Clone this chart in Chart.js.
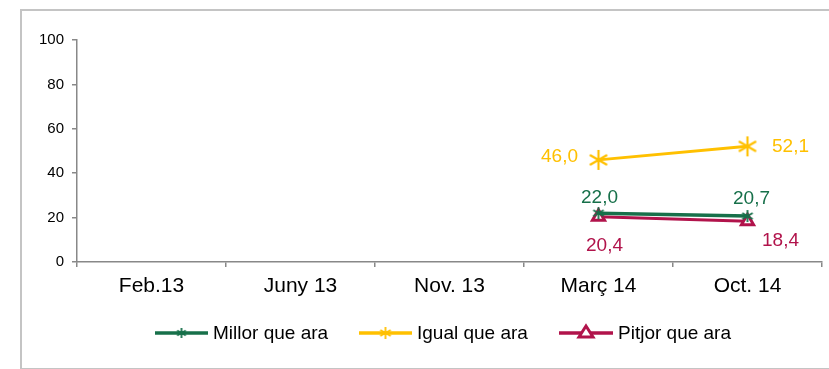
<!DOCTYPE html>
<html><head><meta charset="utf-8">
<script src="https://cdn.jsdelivr.net/npm/chart.js@4/dist/chart.umd.min.js"></script>
<style>
body{margin:0;background:#fff;overflow:hidden;}
#frame{position:absolute;left:20px;top:9px;width:813px;height:357px;border:2px solid #c4c4c4;background:#fff;}
canvas{display:block;}
</style></head><body>
<div id="frame"><canvas id="c" width="813" height="357"></canvas></div>
<script>
const categories = ["Feb.13", "Juny 13", "Nov. 13", "Març 14", "Oct. 14"];
const millor = [null, null, null, 22.0, 20.7];
const igual  = [null, null, null, 46.0, 52.1];
const pitjor = [null, null, null, 20.4, 18.4];
const yTicks = [0, 20, 40, 60, 80, 100];
const seriesNames = ["Millor que ara", "Igual que ara", "Pitjor que ara"];

const GREEN = "#17704a", GOLD = "#ffc000", RED = "#b1134b";
const FONT = "'Liberation Sans', Arial, sans-serif";

function asterisk(size, color, lw){
  const c = document.createElement('canvas');
  c.width = c.height = size*2+4;
  const g = c.getContext('2d');
  g.strokeStyle = color; g.lineWidth = lw; g.lineCap='butt';
  const cx = size+2, cy = size+2;
  for (const a of [90, 30, -30]) {
    const r = a*Math.PI/180;
    g.beginPath();
    g.moveTo(cx - size*Math.cos(r), cy - size*Math.sin(r));
    g.lineTo(cx + size*Math.cos(r), cy + size*Math.sin(r));
    g.stroke();
  }
  return c;
}
const starGreen = asterisk(6, GREEN, 1.8);
const starGold = asterisk(10, GOLD, 2.2);
const starGreenL = asterisk(5, GREEN, 1.8);
const starGoldL = asterisk(6, GOLD, 1.8);

// label offsets (style)
const labelOffsets = [
  [{dx:1, dy:-15}, {dx:4, dy:-17}],
  [{dx:-39, dy:-3}, {dx:43, dy:0}],
  [{dx:6, dy:29}, {dx:33, dy:20}]
];
const colors = [GREEN, GOLD, RED];

const labelPlugin = {
  id:'labels',
  afterDatasetsDraw(chart){
    const ctx = chart.ctx;
    ctx.save();
    ctx.font = "19px " + FONT;
    ctx.textAlign = 'center'; ctx.textBaseline = 'middle';
    chart.data.datasets.forEach((ds, i) => {
      const meta = chart.getDatasetMeta(i);
      let k = 0;
      ds.data.forEach((v, j) => {
        if (v === null) return;
        const p = meta.data[j];
        const o = labelOffsets[i][k++];
        ctx.fillStyle = colors[i];
        ctx.fillText(v.toFixed(1).replace('.', ','), p.x + o.dx, p.y + o.dy);
      });
    });
    ctx.restore();
  },
  afterDraw(chart){
    const ctx = chart.ctx;
    ctx.save();
    const y = 322;
    const items = [
      {x0:133, x1:186, color:GREEN, marker:'gs'},
      {x0:337, x1:390, color:GOLD, marker:'ys'},
      {x0:537, x1:591, color:RED, marker:'tri'}
    ];
    ctx.font = "19px " + FONT;
    ctx.textBaseline = 'middle'; ctx.textAlign = 'left';
    items.forEach((it, i) => {
      ctx.strokeStyle = it.color; ctx.lineWidth = 3.5;
      ctx.beginPath(); ctx.moveTo(it.x0, y); ctx.lineTo(it.x1, y); ctx.stroke();
      const mx = (it.x0 + it.x1)/2;
      if (it.marker === 'gs') ctx.drawImage(starGreenL, mx - starGreenL.width/2, y - starGreenL.height/2);
      else if (it.marker === 'ys') ctx.drawImage(starGoldL, mx - starGoldL.width/2, y - starGoldL.height/2);
      else {
        ctx.fillStyle = '#fff'; ctx.lineWidth = 3;
        ctx.beginPath(); ctx.moveTo(mx, y-7); ctx.lineTo(mx+7, y+4); ctx.lineTo(mx-7, y+4); ctx.closePath();
        ctx.fill(); ctx.stroke();
      }
      ctx.fillStyle = '#000';
      ctx.fillText(seriesNames[i], it.x1 + 5, y + 1);
    });
    ctx.restore();
  }
};

new Chart(document.getElementById('c'), {
  type: 'line',
  data: {
    labels: categories,
    datasets: [
      {label: seriesNames[0], data: millor, borderColor: GREEN, backgroundColor: GREEN, borderWidth: 3.5,
       pointStyle: starGreen, pointRadius: 6},
      {label: seriesNames[1], data: igual, borderColor: GOLD, backgroundColor: GOLD, borderWidth: 3,
       pointStyle: starGold, pointRadius: 10},
      {label: seriesNames[2], data: pitjor, borderColor: RED, backgroundColor: '#fff', borderWidth: 3,
       pointStyle: 'triangle', pointRadius: 7, pointBorderWidth: 3, pointBackgroundColor:'#fff', pointBorderColor: RED}
    ]
  },
  options: {
    responsive: false,
    animation: false,
    events: [],
    layout: {padding: {top: 29, right: 13, bottom: 60, left: 0}},
    plugins: {legend: {display: false}, tooltip: {enabled: false}},
    scales: {
      x: {
        offset: true,
        grid: {offset: true, drawOnChartArea: false, tickLength: 5, color: '#888', lineWidth: 1.5},
        border: {color: '#888', width: 1.5},
        ticks: {color: '#000', font: {family: FONT, size: 21}, padding: 7, maxRotation: 0, autoSkip: false},
        afterFit(s){ s.height = 46; s.paddingLeft = 0; s.paddingRight = 0; }
      },
      y: {
        min: 0, max: 100,
        afterBuildTicks(s){ s.ticks = yTicks.map(v => ({value: v})); },
        grid: {drawOnChartArea: false, tickLength: 5, color: '#888', lineWidth: 1.5},
        border: {color: '#888', width: 1.5},
        ticks: {color: '#000', font: {family: FONT, size: 15}, padding: 8},
        afterFit(s){ s.width = 55; }
      }
    }
  },
  plugins: [labelPlugin]
});
</script>
</body></html>
